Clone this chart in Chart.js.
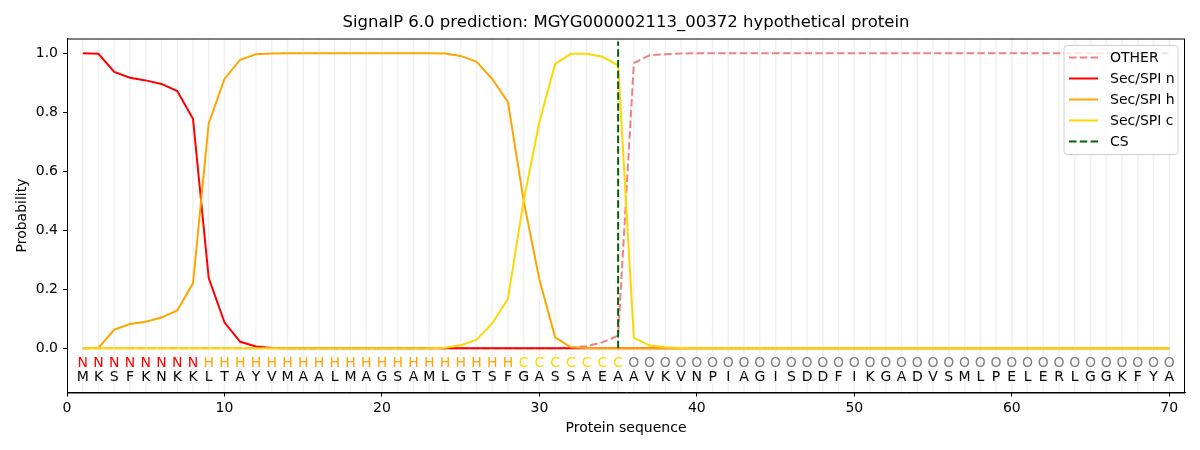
<!DOCTYPE html>
<html>
<head>
<meta charset="utf-8">
<script src="https://cdn.jsdelivr.net/npm/chart.js@4"></script>
<style>
  html, body { margin: 0; padding: 0; background: #fff; }
  #wrap { width: 1200px; height: 450px; }
</style>
</head>
<body>
<div id="wrap"><canvas id="chart"></canvas></div>
<script>
// sequence and per-residue labels
let residues = "MKSFKNKKLTAYVMAALMAGSAMLGTSFGASSAEAAVKVNPIAGISDDFIKGADVSMLPELERLGGKFYA".split("");
let regions  = "NNNNNNNNHHHHHHHHHHHHHHHHHHHHCCCCCCCOOOOOOOOOOOOOOOOOOOOOOOOOOOOOOOOOOO".split("");

let positions = residues.map((r, i) => i + 1);

// probabilities
let other = [
  0, 0, 0, 0, 0, 0, 0, 0, 0, 0,
  0, 0, 0, 0, 0, 0, 0, 0, 0, 0,
  0, 0, 0, 0, 0, 0, 0, 0, 0, 0,
  0, 0.002, 0.007, 0.02, 0.043, 0.967, 0.993, 0.997, 0.999, 1,
  1, 1, 1, 1, 1, 1, 1, 1, 1, 1,
  1, 1, 1, 1, 1, 1, 1, 1, 1, 1,
  1, 1, 1, 1, 1, 1, 1, 1, 1, 1
];
let secN = [
  1.0, 0.998, 0.937, 0.917, 0.908, 0.896, 0.872, 0.778, 0.238, 0.088,
  0.022, 0.006, 0.001, 0, 0, 0, 0, 0, 0, 0,
  0, 0, 0, 0, 0, 0, 0, 0, 0, 0,
  0, 0, 0, 0, 0, 0, 0, 0, 0, 0,
  0, 0, 0, 0, 0, 0, 0, 0, 0, 0,
  0, 0, 0, 0, 0, 0, 0, 0, 0, 0,
  0, 0, 0, 0, 0, 0, 0, 0, 0, 0
];
let secH = [
  0, 0.001, 0.063, 0.082, 0.09, 0.104, 0.128, 0.22, 0.762, 0.913,
  0.978, 0.997, 0.999, 1, 1, 1, 1, 1, 1, 1,
  1, 1, 1, 0.999, 0.991, 0.972, 0.913, 0.835, 0.5, 0.233,
  0.037, 0.003, 0.001, 0, 0, 0, 0, 0, 0, 0,
  0, 0, 0, 0, 0, 0, 0, 0, 0, 0,
  0, 0, 0, 0, 0, 0, 0, 0, 0, 0,
  0, 0, 0, 0, 0, 0, 0, 0, 0, 0
];
let secC = [
  0, 0, 0, 0, 0, 0, 0, 0, 0, 0,
  0, 0, 0, 0, 0, 0, 0, 0, 0, 0,
  0, 0, 0, 0.002, 0.01, 0.028, 0.084, 0.167, 0.5, 0.767,
  0.964, 0.998, 0.998, 0.988, 0.959, 0.035, 0.009, 0.003, 0.001, 0,
  0, 0, 0, 0, 0, 0, 0, 0, 0, 0,
  0, 0, 0, 0, 0, 0, 0, 0, 0, 0,
  0, 0, 0, 0, 0, 0, 0, 0, 0, 0
];
let csPos = 35;
let csTop = 1.04;

let xTicks = [0, 10, 20, 30, 40, 50, 60, 70];
let yTicks = [0, 0.2, 0.4, 0.6, 0.8, 1.0];

let regionColors = { N: "red", H: "orange", C: "gold", O: "grey" };
let FONT = "'DejaVu Sans', sans-serif";

function pts(arr) {
    return arr.map((v, i) => ({ x: positions[i], y: v }));
}

let legendItems = [
    { label: "OTHER", color: "lightcoral", dash: [7.5, 3.3] },
    { label: "Sec/SPI n", color: "red", dash: [] },
    { label: "Sec/SPI h", color: "orange", dash: [] },
    { label: "Sec/SPI c", color: "gold", dash: [] },
    { label: "CS", color: "darkgreen", dash: [7.5, 3.3] }
];

// extra drawing: faint grid per residue, letters, frame, title, axis titles, legend
let decor = {
    id: "decor",
    beforeDatasetsDraw(chart) {
        let c = chart.ctx, a = chart.chartArea, xs = chart.scales.x;
        c.save();
        c.strokeStyle = "rgba(0,0,0,0.06)";
        c.lineWidth = 1.5;
        positions.forEach(p => {
            let px = xs.getPixelForValue(p);
            c.beginPath();
            c.moveTo(px, a.top);
            c.lineTo(px, a.bottom);
            c.stroke();
        });
        c.restore();
    },
    afterDraw(chart) {
        let c = chart.ctx, a = chart.chartArea, xs = chart.scales.x, ys = chart.scales.y;
        c.save();

        // letters under the curves
        c.font = "14px " + FONT;
        c.textAlign = "center";
        c.textBaseline = "middle";
        positions.forEach((p, i) => {
            let px = xs.getPixelForValue(p);
            c.fillStyle = regionColors[regions[i]];
            c.fillText(regions[i], px, ys.getPixelForValue(-0.05));
            c.fillStyle = "black";
            c.fillText(residues[i], px, ys.getPixelForValue(-0.1));
        });

        // frame
        c.strokeStyle = "black";
        c.lineWidth = 1;
        c.strokeRect(a.left + 0.5, a.top + 0.5, a.right - a.left - 1, a.bottom - a.top);

        // title
        let cx = (a.left + a.right) / 2;
        c.fillStyle = "black";
        c.font = "16.5px " + FONT;
        c.fillText("SignalP 6.0 prediction: MGYG000002113_00372 hypothetical protein", cx, 23);

        // axis titles
        c.font = "14px " + FONT;
        c.fillText("Protein sequence", cx, 428);
        c.save();
        c.translate(22, (a.top + a.bottom) / 2);
        c.rotate(-Math.PI / 2);
        c.fillText("Probability", 0, 0);
        c.restore();

        // legend
        let lx = a.right - 121, ly = a.top + 7, lw = 114, lh = 109;
        c.fillStyle = "rgba(255,255,255,0.8)";
        c.strokeStyle = "#d0d0d0";
        c.beginPath();
        c.roundRect(lx, ly, lw, lh, 3);
        c.fill();
        c.stroke();
        c.textAlign = "left";
        legendItems.forEach((it, i) => {
            let y = ly + 12 + i * 21;
            c.strokeStyle = it.color;
            c.lineWidth = 2;
            c.setLineDash(it.dash);
            c.beginPath();
            c.moveTo(lx + 5, y);
            c.lineTo(lx + 34, y);
            c.stroke();
            c.setLineDash([]);
            c.fillStyle = "black";
            c.fillText(it.label, lx + 46, y + 1);
        });
        c.restore();
    }
};

let ctx = document.getElementById("chart").getContext("2d");

new Chart(ctx, {
    type: "line",
    data: {
        datasets: [
            { label: "OTHER", data: pts(other), borderColor: "lightcoral", borderDash: [7.5, 3.3], order: 5 },
            { label: "Sec/SPI n", data: pts(secN), borderColor: "red", order: 4 },
            { label: "Sec/SPI h", data: pts(secH), borderColor: "orange", order: 3 },
            { label: "Sec/SPI c", data: pts(secC), borderColor: "gold", order: 2 },
            { label: "CS", data: [{ x: csPos, y: 0 }, { x: csPos, y: csTop }], borderColor: "darkgreen", borderDash: [7.5, 3.3], order: 1 }
        ]
    },
    options: {
        responsive: true,
        maintainAspectRatio: false,
        animation: false,
        layout: { padding: { top: 38.5, right: 15, left: 0, bottom: 0 } },
        elements: {
            line: { borderWidth: 2, tension: 0, fill: false },
            point: { radius: 0 }
        },
        plugins: {
            legend: { display: false },
            title: { display: false },
            tooltip: { enabled: false }
        },
        scales: {
            x: {
                type: "linear",
                min: 0,
                max: 71,
                afterBuildTicks: s => { s.ticks = xTicks.map(v => ({ value: v })); },
                afterFit: s => { s.height = 57.5; },
                ticks: { font: { family: FONT, size: 14 }, color: "black", padding: 3, maxRotation: 0,
                         callback: v => String(v) },
                grid: { drawOnChartArea: false, tickLength: 4, color: "black" },
                border: { color: "black" }
            },
            y: {
                min: -0.15,
                max: 1.05,
                afterBuildTicks: s => { s.ticks = yTicks.map(v => ({ value: v })); },
                afterFit: s => { s.width = 67; },
                ticks: { font: { family: FONT, size: 14 }, color: "black", padding: 5,
                         callback: v => Number(v).toFixed(1) },
                grid: { drawOnChartArea: false, tickLength: 4, color: "black" },
                border: { color: "black" }
            }
        }
    },
    plugins: [decor]
});
</script>
</body>
</html>
